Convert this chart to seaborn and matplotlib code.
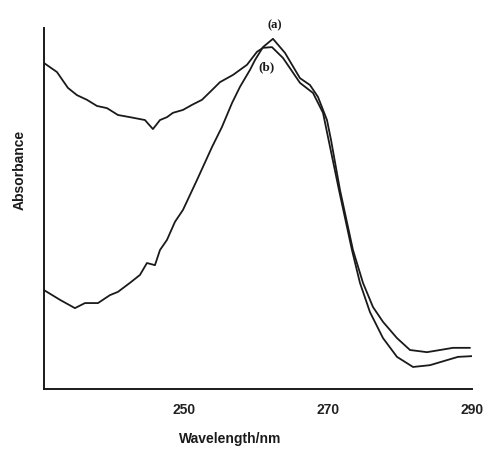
import matplotlib
matplotlib.use("Agg")
import matplotlib.pyplot as plt
import seaborn as sns
import pandas as pd

# Curve (a): low start, sharp peak
wl_a = [230.56, 232.78, 234.86, 236.25, 238.06, 239.72, 240.83, 242.5, 243.89, 244.86,
        245.97, 246.67, 247.64, 248.75, 249.86, 251.81, 253.89, 255.28, 256.67, 257.78,
        259.17, 259.86, 260.97, 262.36, 264.03, 266.11, 267.5, 268.61, 269.86, 270.42,
        271.67, 273.47, 274.86, 276.25, 277.64, 279.58, 281.39, 283.75, 285.56, 287.36, 289.72]
abs_a = [0.274, 0.247, 0.224, 0.238, 0.238, 0.260, 0.269, 0.294, 0.316, 0.349,
         0.343, 0.385, 0.413, 0.463, 0.496, 0.579, 0.670, 0.726, 0.792, 0.837,
         0.884, 0.911, 0.947, 0.970, 0.931, 0.861, 0.842, 0.809, 0.745, 0.690,
         0.551, 0.385, 0.294, 0.227, 0.186, 0.141, 0.108, 0.102, 0.108, 0.114, 0.114]

# Curve (b): high start, rounded peak
wl_b = [230.56, 232.36, 233.89, 235.14, 236.53, 237.92, 239.31, 240.83, 242.5, 244.58,
        245.69, 246.67, 247.64, 248.47, 249.86, 251.11, 252.5, 253.89, 255.0, 256.81,
        258.75, 260.14, 260.97, 262.22, 263.75, 266.11, 267.92, 269.31, 270.0, 271.53,
        273.33, 274.44, 275.83, 277.64, 279.58, 281.81, 284.17, 286.53, 288.06, 290.0]
abs_b = [0.903, 0.878, 0.834, 0.814, 0.801, 0.784, 0.778, 0.759, 0.753, 0.745,
         0.720, 0.745, 0.753, 0.765, 0.773, 0.787, 0.801, 0.828, 0.850, 0.870,
         0.898, 0.934, 0.945, 0.947, 0.917, 0.848, 0.820, 0.765, 0.698, 0.551,
         0.385, 0.294, 0.213, 0.141, 0.089, 0.061, 0.066, 0.080, 0.089, 0.091]

major_ticks = [250, 270, 290]
minor_ticks = [240, 260, 280]
labels = ["(a)", "(b)"]

df = pd.concat([
    pd.DataFrame({"Wavelength": wl_a, "Absorbance": abs_a, "curve": labels[0]}),
    pd.DataFrame({"Wavelength": wl_b, "Absorbance": abs_b, "curve": labels[1]}),
])

sns.set_style("white")
plt.rcParams["font.family"] = ["Liberation Sans", "DejaVu Sans"]

fig = plt.figure(figsize=(4.87, 4.61), dpi=100)
ax = fig.add_axes([0.0903, 0.1562, 0.8789, 0.7831])

sns.lineplot(data=df, x="Wavelength", y="Absorbance", hue="curve", units="curve",
             estimator=None, sort=False, palette=["#1a1a1a", "#1a1a1a"],
             linewidth=1.3, legend=False, ax=ax)

ax.set_xlim(230.56, 290)
ax.set_ylim(0, 1)
ax.set_yticks([])
ax.set_xticks(major_ticks)
ax.set_xticks(minor_ticks, minor=True)
ax.set_xticklabels([str(t) for t in major_ticks], fontsize=10, fontweight="bold", color="#222222")
ax.tick_params(axis="x", which="both", direction="inout", length=4, width=1, color="#222222", pad=8)

for s in ["top", "right"]:
    ax.spines[s].set_visible(False)
for s in ["left", "bottom"]:
    ax.spines[s].set_color("#1a1a1a")
    ax.spines[s].set_linewidth(1.4)

ax.set_xlabel("Wavelength/nm", fontsize=10, fontweight="bold", color="#1a1a1a")
ax.set_ylabel("Absorbance", fontsize=10, fontweight="bold", color="#1a1a1a")
ax.xaxis.set_label_coords(0.435, -0.118)
ax.yaxis.set_label_coords(-0.040, 0.607)

ax.text(262.6, 1.008, labels[0], fontsize=9, fontweight="bold", family=["Liberation Serif", "DejaVu Serif"],
        ha="center", va="center", clip_on=False, color="#1a1a1a")
ax.text(261.5, 0.892, labels[1], fontsize=9.5, fontweight="bold", family=["Liberation Serif", "DejaVu Serif"],
        ha="center", va="center", color="#1a1a1a")

fig.savefig("out.png", dpi=100, facecolor="white")
